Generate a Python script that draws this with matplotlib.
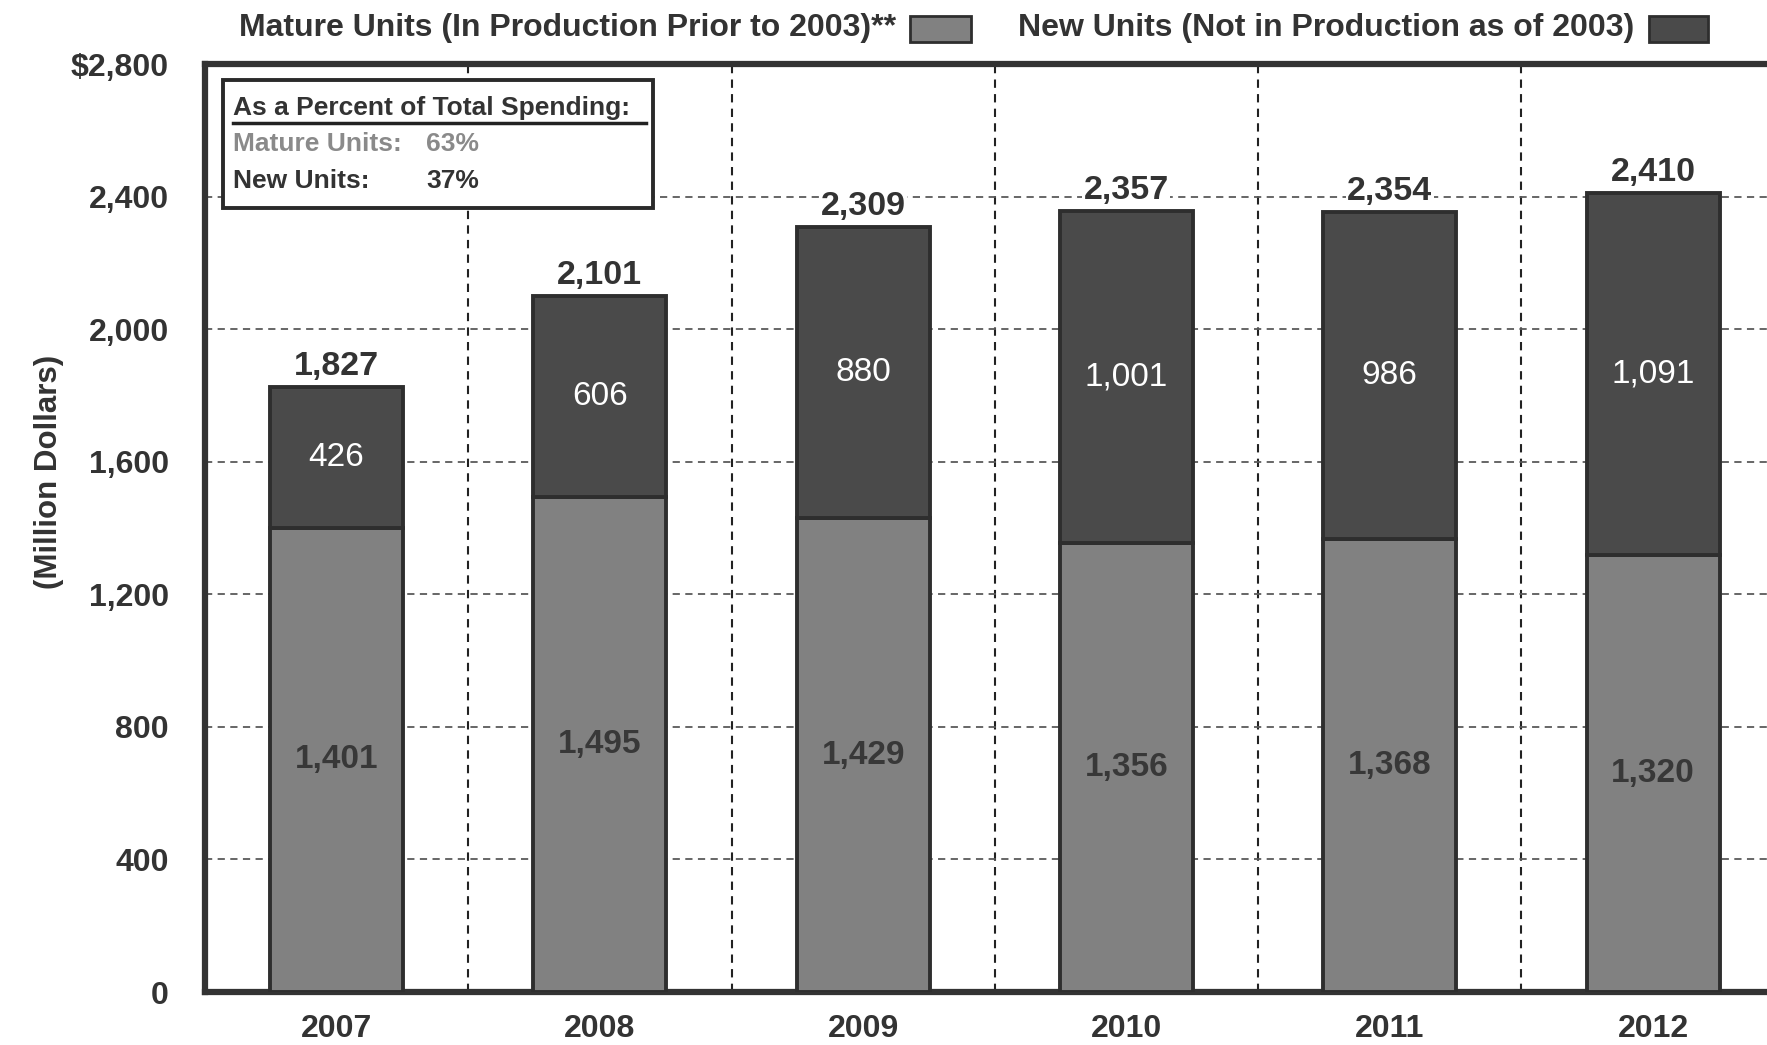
import numpy as np
import matplotlib
matplotlib.use("Agg")
import matplotlib.pyplot as plt
from matplotlib.patches import Rectangle

# data
years = ["2007", "2008", "2009", "2010", "2011", "2012"]
mature_units = [1401, 1495, 1429, 1356, 1368, 1320]
new_units = [426, 606, 880, 1001, 986, 1091]
totals = [1827, 2101, 2309, 2357, 2354, 2410]
y_ticks = [0, 400, 800, 1200, 1600, 2000, 2400, 2800]
y_tick_labels = ["0", "400", "800", "1,200", "1,600", "2,000", "2,400", "$2,800"]
share_labels = ["Mature Units:", "New Units:"]
share_values = ["63%", "37%"]

mature_color = "#818181"
new_color = "#4a4a4a"
edge_color = "#2e2e2e"
text_color = "#333333"
font = ["Liberation Sans", "DejaVu Sans"]
plt.rcParams["font.family"] = font

fig = plt.figure(figsize=(17.67, 10.45), dpi=100)
ax = fig.add_axes([0.116, 0.0507, 0.894, 0.888])

x = np.arange(len(years))
ax.bar(x, mature_units, width=0.505, color=mature_color, edgecolor=edge_color,
       linewidth=2.8, zorder=3)
ax.bar(x, new_units, bottom=mature_units, width=0.505, color=new_color,
       edgecolor=edge_color, linewidth=2.8, zorder=3)

# values inside and on top of the bars
for i in range(len(years)):
    ax.text(x[i], mature_units[i] / 2, f"{mature_units[i]:,}", ha="center", va="center",
            fontsize=24, fontweight="bold", color="#383838", zorder=4)
    ax.text(x[i], mature_units[i] + new_units[i] / 2, f"{new_units[i]:,}", ha="center",
            va="center", fontsize=24, color="white", zorder=4)
    ax.text(x[i], totals[i] + 36, f"{totals[i]:,}", ha="center", va="baseline",
            fontsize=24.5, fontweight="bold", color=text_color, zorder=4,
            bbox=dict(facecolor="white", edgecolor="none", pad=1))

ax.set_xlim(-0.5, 5.5)
ax.set_ylim(0, 2800)
ax.set_yticks(y_ticks)
ax.set_yticklabels(y_tick_labels)
ax.set_xticks(x)
ax.set_xticklabels(years)
ax.tick_params(axis="both", length=0, labelsize=23, labelcolor=text_color)
ax.tick_params(axis="y", pad=26)
ax.tick_params(axis="x", pad=16)
for lbl in ax.get_xticklabels() + ax.get_yticklabels():
    lbl.set_fontweight("bold")

# dashed grid: horizontal at ticks, vertical between the bars
ax.grid(axis="y", linestyle=(0, (4, 3)), color="#5a5a5a", linewidth=1.3, zorder=1)
ax.set_xticks(x[:-1] + 0.5, minor=True)
ax.grid(axis="x", which="minor", linestyle=(0, (4, 3)), color="#222222", linewidth=1.5, zorder=1)
ax.tick_params(axis="x", which="minor", length=0)

for side in ["left", "bottom", "top", "right"]:
    ax.spines[side].set_linewidth(4.5)
    ax.spines[side].set_color(text_color)

fig.text(0.0275, 0.548, "(Million Dollars)", rotation=90, ha="center", va="center",
         fontsize=22.5, fontweight="bold", color=text_color)

# inset box with the shares
ax.add_patch(Rectangle((0.0114, 0.845), 0.272, 0.138, transform=ax.transAxes,
                       facecolor="white", edgecolor="#2a2a2a", linewidth=2.8, zorder=5))
ax.text(0.018, 0.953, "As a Percent of Total Spending:", transform=ax.transAxes,
        fontsize=19, fontweight="bold", color=text_color, va="center", zorder=6)
ax.plot([0.018, 0.279], [0.937, 0.937], transform=ax.transAxes, color="#222222",
        linewidth=2.5, zorder=6)
ax.text(0.018, 0.914, share_labels[0], transform=ax.transAxes, fontsize=19,
        fontweight="bold", color="#8a8a8a", va="center", zorder=6)
ax.text(0.140, 0.914, share_values[0], transform=ax.transAxes, fontsize=19,
        fontweight="bold", color="#8a8a8a", va="center", zorder=6)
ax.text(0.018, 0.874, share_labels[1], transform=ax.transAxes, fontsize=19,
        fontweight="bold", color=text_color, va="center", zorder=6)
ax.text(0.140, 0.874, share_values[1], transform=ax.transAxes, fontsize=19,
        fontweight="bold", color=text_color, va="center", zorder=6)

# legend along the top: text followed by a swatch
fig.text(0.507, 0.973, "Mature Units (In Production Prior to 2003)**", ha="right",
         va="center", fontsize=23, fontweight="bold", color=text_color)
fig.patches.append(Rectangle((0.515, 0.960), 0.0345, 0.025, transform=fig.transFigure,
                             facecolor=mature_color, edgecolor=edge_color, linewidth=2))
fig.text(0.925, 0.973, "New Units (Not in Production as of 2003)", ha="right",
         va="center", fontsize=23, fontweight="bold", color=text_color)
fig.patches.append(Rectangle((0.933, 0.960), 0.0334, 0.025, transform=fig.transFigure,
                             facecolor=new_color, edgecolor=edge_color, linewidth=2))

fig.savefig("out.png", dpi=100)
